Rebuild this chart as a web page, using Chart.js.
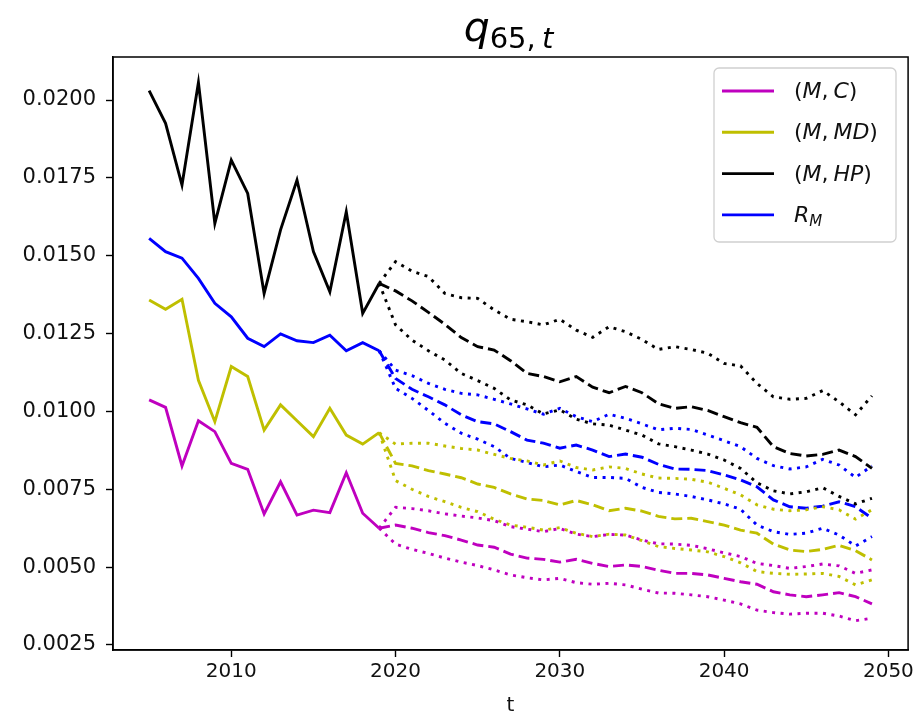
<!DOCTYPE html>
<html>
<head>
<meta charset="utf-8">
<script src="https://cdn.jsdelivr.net/npm/chart.js@4.4.1/dist/chart.umd.min.js"></script>
<style>
  html, body { margin: 0; padding: 0; background: #fff; }
  canvas { display: block; }
</style>
</head>
<body>
<canvas id="myChart" width="917" height="714"></canvas>
<script>
'use strict';

// observed years and projection years
const histYears = [2005, 2006, 2007, 2008, 2009, 2010, 2011, 2012, 2013, 2014, 2015, 2016, 2017, 2018, 2019];
const projYears = [2019, 2020, 2021, 2022, 2023, 2024, 2025, 2026, 2027, 2028, 2029, 2030, 2031, 2032, 2033,
    2034, 2035, 2036, 2037, 2038, 2039, 2040, 2041, 2042, 2043, 2044, 2045, 2046, 2047, 2048, 2049];

const xTicks = [2010, 2020, 2030, 2040, 2050];
const yTicks = [0.0025, 0.0050, 0.0075, 0.0100, 0.0125, 0.0150, 0.0175, 0.0200];

// (M,C)
const histMC = [0.01037, 0.01013, 0.00825, 0.00970, 0.00935, 0.00833, 0.00814, 0.00671, 0.00774, 0.00667, 0.00683, 0.00675, 0.00803, 0.00673, 0.00625];
const medMC = [0.00625, 0.00635, 0.00625, 0.00611, 0.00601, 0.00587, 0.00571, 0.00564, 0.00542, 0.00529, 0.00525, 0.00516, 0.00525, 0.00512, 0.00502, 0.00507,
    0.00502, 0.00490, 0.00480, 0.00480, 0.00475, 0.00464, 0.00453, 0.00445, 0.00421, 0.00411, 0.00405, 0.00411, 0.00418, 0.00405, 0.00382];
const hiMC = [0.00625, 0.00692, 0.00688, 0.00681, 0.00671, 0.00664, 0.00658, 0.00649, 0.00630, 0.00622, 0.00614, 0.00624, 0.00606, 0.00598, 0.00605, 0.00603,
    0.00587, 0.00575, 0.00574, 0.00570, 0.00559, 0.00546, 0.00534, 0.00512, 0.00505, 0.00496, 0.00502, 0.00510, 0.00504, 0.00480, 0.00491];
const loMC = [0.00625, 0.00574, 0.00557, 0.00544, 0.00529, 0.00516, 0.00505, 0.00491, 0.00475, 0.00466, 0.00459, 0.00464, 0.00450, 0.00445, 0.00448, 0.00443,
    0.00429, 0.00417, 0.00416, 0.00411, 0.00405, 0.00394, 0.00382, 0.00362, 0.00354, 0.00349, 0.00352, 0.00352, 0.00343, 0.00328, 0.00336];

// (M,MD)
const histMD = [0.01358, 0.01328, 0.01360, 0.01100, 0.00967, 0.01144, 0.01112, 0.00940, 0.01021, 0.00970, 0.00919, 0.01010, 0.00924, 0.00895, 0.00932];
const medMD = [0.00932, 0.00833, 0.00825, 0.00810, 0.00799, 0.00787, 0.00767, 0.00756, 0.00735, 0.00719, 0.00714, 0.00700, 0.00714, 0.00700, 0.00681, 0.00689,
    0.00680, 0.00663, 0.00655, 0.00657, 0.00646, 0.00635, 0.00619, 0.00609, 0.00574, 0.00555, 0.00550, 0.00557, 0.00570, 0.00553, 0.00523];
const hiMD = [0.00932, 0.00895, 0.00898, 0.00898, 0.00889, 0.00881, 0.00876, 0.00862, 0.00849, 0.00841, 0.00828, 0.00841, 0.00820, 0.00812, 0.00822, 0.00817,
    0.00799, 0.00786, 0.00785, 0.00782, 0.00773, 0.00753, 0.00732, 0.00700, 0.00686, 0.00681, 0.00684, 0.00694, 0.00684, 0.00654, 0.00684];
const loMD = [0.00932, 0.00778, 0.00750, 0.00727, 0.00710, 0.00692, 0.00678, 0.00654, 0.00635, 0.00628, 0.00619, 0.00627, 0.00609, 0.00598, 0.00606, 0.00603,
    0.00585, 0.00566, 0.00560, 0.00555, 0.00549, 0.00534, 0.00514, 0.00486, 0.00480, 0.00477, 0.00478, 0.00480, 0.00470, 0.00443, 0.00459];

// (M,HP)
const histHP = [0.02030, 0.01925, 0.01727, 0.02056, 0.01604, 0.01807, 0.01700, 0.01379, 0.01583, 0.01743, 0.01513, 0.01384, 0.01641, 0.01315, 0.01411];
const medHP = [0.01411, 0.01387, 0.01355, 0.01318, 0.01280, 0.01237, 0.01208, 0.01197, 0.01163, 0.01122, 0.01112, 0.01095, 0.01112, 0.01078, 0.01060, 0.01080,
    0.01060, 0.01025, 0.01010, 0.01015, 0.01003, 0.00983, 0.00964, 0.00949, 0.00887, 0.00865, 0.00857, 0.00862, 0.00876, 0.00855, 0.00817];
const hiHP = [0.01411, 0.01481, 0.01450, 0.01433, 0.01379, 0.01365, 0.01363, 0.01326, 0.01296, 0.01288, 0.01278, 0.01296, 0.01261, 0.01238, 0.01272, 0.01256,
    0.01231, 0.01199, 0.01208, 0.01199, 0.01187, 0.01154, 0.01146, 0.01090, 0.01047, 0.01039, 0.01042, 0.01067, 0.01031, 0.00989, 0.01050];
const loHP = [0.01411, 0.01278, 0.01229, 0.01195, 0.01165, 0.01122, 0.01099, 0.01074, 0.01037, 0.01021, 0.00992, 0.01005, 0.00975, 0.00960, 0.00956, 0.00940,
    0.00924, 0.00896, 0.00887, 0.00876, 0.00863, 0.00844, 0.00817, 0.00771, 0.00745, 0.00735, 0.00742, 0.00755, 0.00727, 0.00703, 0.00721];

// R_M
const histRM = [0.01556, 0.01513, 0.01492, 0.01427, 0.01347, 0.01304, 0.01235, 0.01208, 0.01249, 0.01227, 0.01221, 0.01245, 0.01195, 0.01221, 0.01195];
const medRM = [0.01195, 0.01106, 0.01071, 0.01047, 0.01021, 0.00989, 0.00967, 0.00960, 0.00935, 0.00908, 0.00898, 0.00882, 0.00892, 0.00876, 0.00855, 0.00863,
    0.00853, 0.00830, 0.00815, 0.00814, 0.00810, 0.00796, 0.00780, 0.00758, 0.00716, 0.00694, 0.00689, 0.00696, 0.00710, 0.00694, 0.00657];
const hiRM = [0.01195, 0.01133, 0.01115, 0.01090, 0.01071, 0.01058, 0.01053, 0.01039, 0.01024, 0.01008, 0.00991, 0.01010, 0.00983, 0.00967, 0.00991, 0.00978,
    0.00960, 0.00941, 0.00946, 0.00942, 0.00924, 0.00906, 0.00887, 0.00849, 0.00826, 0.00815, 0.00822, 0.00846, 0.00828, 0.00788, 0.00825];
const loRM = [0.01195, 0.01074, 0.01042, 0.01003, 0.00962, 0.00930, 0.00911, 0.00887, 0.00849, 0.00836, 0.00822, 0.00828, 0.00807, 0.00788, 0.00788, 0.00785,
    0.00756, 0.00740, 0.00735, 0.00727, 0.00716, 0.00703, 0.00686, 0.00635, 0.00614, 0.00605, 0.00609, 0.00625, 0.00603, 0.00568, 0.00598];

const groups = [
    { label: '(M,C)', color: '#bf00bf', hist: histMC, med: medMC, hi: hiMC, lo: loMC },
    { label: '(M,MD)', color: '#bfbf00', hist: histMD, med: medMD, hi: hiMD, lo: loMD },
    { label: '(M,HP)', color: '#000000', hist: histHP, med: medHP, hi: hiHP, lo: loHP },
    { label: 'R_M', color: '#0000ff', hist: histRM, med: medRM, hi: hiRM, lo: loRM }
];

const FONT = '"DejaVu Sans"';
const LW = 2.9;
const DASHED = [11, 5];
const DOTTED = [3, 5.5];

const toPoints = (xs, ys) => xs.map((x, i) => ({ x: x, y: ys[i] }));

const datasets = [];
groups.forEach(g => {
    const base = { borderColor: g.color, borderWidth: LW, pointRadius: 0, fill: false, tension: 0, borderCapStyle: 'butt' };
    datasets.push(Object.assign({ label: g.label, data: toPoints(histYears, g.hist) }, base));
    datasets.push(Object.assign({ label: g.label + ' median', data: toPoints(projYears, g.med), borderDash: DASHED }, base));
    datasets.push(Object.assign({ label: g.label + ' upper', data: toPoints(projYears, g.hi), borderDash: DOTTED }, base));
    datasets.push(Object.assign({ label: g.label + ' lower', data: toPoints(projYears, g.lo), borderDash: DOTTED }, base));
});

// tiny math-text renderer: letters italic, "_x" or "_{...}" as subscript
function drawMath(ctx, src, x, y, size, align) {
    const runs = [];
    for (let i = 0; i < src.length; i++) {
        const ch = src[i];
        if (ch === '_') {
            let body;
            if (src[i + 1] === '{') {
                const end = src.indexOf('}', i);
                body = src.slice(i + 2, end);
                i = end;
            } else {
                body = src[i + 1];
                i++;
            }
            for (const c of body) runs.push({ c: c, sub: true });
        } else {
            runs.push({ c: ch, sub: false });
        }
    }
    const fontFor = r => (/[A-Za-z]/.test(r.c) ? 'italic ' : '') + Math.round(r.sub ? size * 0.7 : size) + 'px ' + FONT;
    const advance = r => {
        ctx.font = fontFor(r);
        let w = ctx.measureText(r.c).width;
        if (r.c === ',') w += size * 0.22 * (r.sub ? 0.7 : 1);
        return w;
    };
    const total = runs.reduce((s, r) => s + advance(r), 0);
    let cx = align === 'center' ? x - total / 2 : x;
    ctx.textAlign = 'left';
    ctx.textBaseline = 'alphabetic';
    runs.forEach(r => {
        ctx.font = fontFor(r);
        ctx.fillText(r.c, cx, y + (r.sub ? size * 0.17 : 0));
        cx += advance(r);
    });
}

const whiteBg = {
    id: 'whiteBg',
    beforeDraw(chart) {
        const c = chart.ctx;
        c.save();
        c.fillStyle = '#ffffff';
        c.fillRect(0, 0, chart.width, chart.height);
        c.restore();
    }
};

const frame = {
    id: 'frame',
    afterDatasetsDraw(chart) {
        const a = chart.chartArea;
        const c = chart.ctx;
        c.save();
        c.strokeStyle = '#000';
        c.lineWidth = 1.5;
        c.strokeRect(a.left, a.top, a.right - a.left, a.bottom - a.top);
        c.restore();
    }
};

const mathTitle = {
    id: 'mathTitle',
    afterDraw(chart) {
        const a = chart.chartArea;
        const c = chart.ctx;
        c.save();
        c.fillStyle = '#000';
        drawMath(c, 'q_{65,t}', (a.left + a.right) / 2 - 2, 41, 41, 'center');
        c.restore();
    }
};

const mathLegend = {
    id: 'mathLegend',
    afterDraw(chart) {
        const c = chart.ctx;
        const box = { x: 714, y: 68, w: 182, h: 174 };
        c.save();
        c.beginPath();
        c.roundRect(box.x, box.y, box.w, box.h, 5);
        c.fillStyle = 'rgba(255,255,255,0.8)';
        c.fill();
        c.strokeStyle = '#d0d0d0';
        c.lineWidth = 1.3;
        c.stroke();
        groups.forEach((g, i) => {
            const y = 91 + i * 41.3;
            c.beginPath();
            c.moveTo(722, y);
            c.lineTo(774, y);
            c.strokeStyle = g.color;
            c.lineWidth = LW;
            c.stroke();
            c.fillStyle = '#111';
            drawMath(c, g.label, 794, y + 7, 22, 'left');
        });
        c.restore();
    }
};

const ctx = document.getElementById('myChart').getContext('2d');
const myChart = new Chart(ctx, {
    type: 'line',
    data: { datasets: datasets },
    plugins: [whiteBg, frame, mathTitle, mathLegend],
    options: {
        responsive: false,
        animation: false,
        layout: { padding: { left: 0, right: 7, top: 57, bottom: 0 } },
        plugins: {
            legend: { display: false },
            title: { display: false },
            tooltip: { enabled: false }
        },
        scales: {
            x: {
                type: 'linear',
                min: 2002.8,
                max: 2051.2,
                afterBuildTicks: s => { s.ticks = xTicks.map(v => ({ value: v })); },
                afterFit: s => { s.height = 64; },
                grid: { display: true, drawOnChartArea: false, drawTicks: true, tickLength: 7, tickColor: '#000', tickWidth: 1.4 },
                border: { display: true, color: '#000', width: 1.5 },
                ticks: {
                    autoSkip: false,
                    maxRotation: 0,
                    padding: 3,
                    color: '#111',
                    font: { family: FONT, size: 20 },
                    callback: v => String(v)
                },
                title: {
                    display: true,
                    text: 't',
                    color: '#111',
                    padding: { top: 0, bottom: -4 },
                    font: { family: FONT, size: 20 }
                }
            },
            y: {
                min: 0.002339,
                max: 0.021381,
                afterBuildTicks: s => { s.ticks = yTicks.map(v => ({ value: v })); },
                afterFit: s => { s.width = 113; },
                grid: { display: true, drawOnChartArea: false, drawTicks: true, tickLength: 7, tickColor: '#000', tickWidth: 1.4 },
                border: { display: true, color: '#000', width: 1.5 },
                ticks: {
                    autoSkip: false,
                    padding: 10,
                    color: '#111',
                    font: { family: FONT, size: 21 },
                    callback: v => v.toFixed(4)
                }
            }
        }
    }
});
</script>
</body>
</html>
